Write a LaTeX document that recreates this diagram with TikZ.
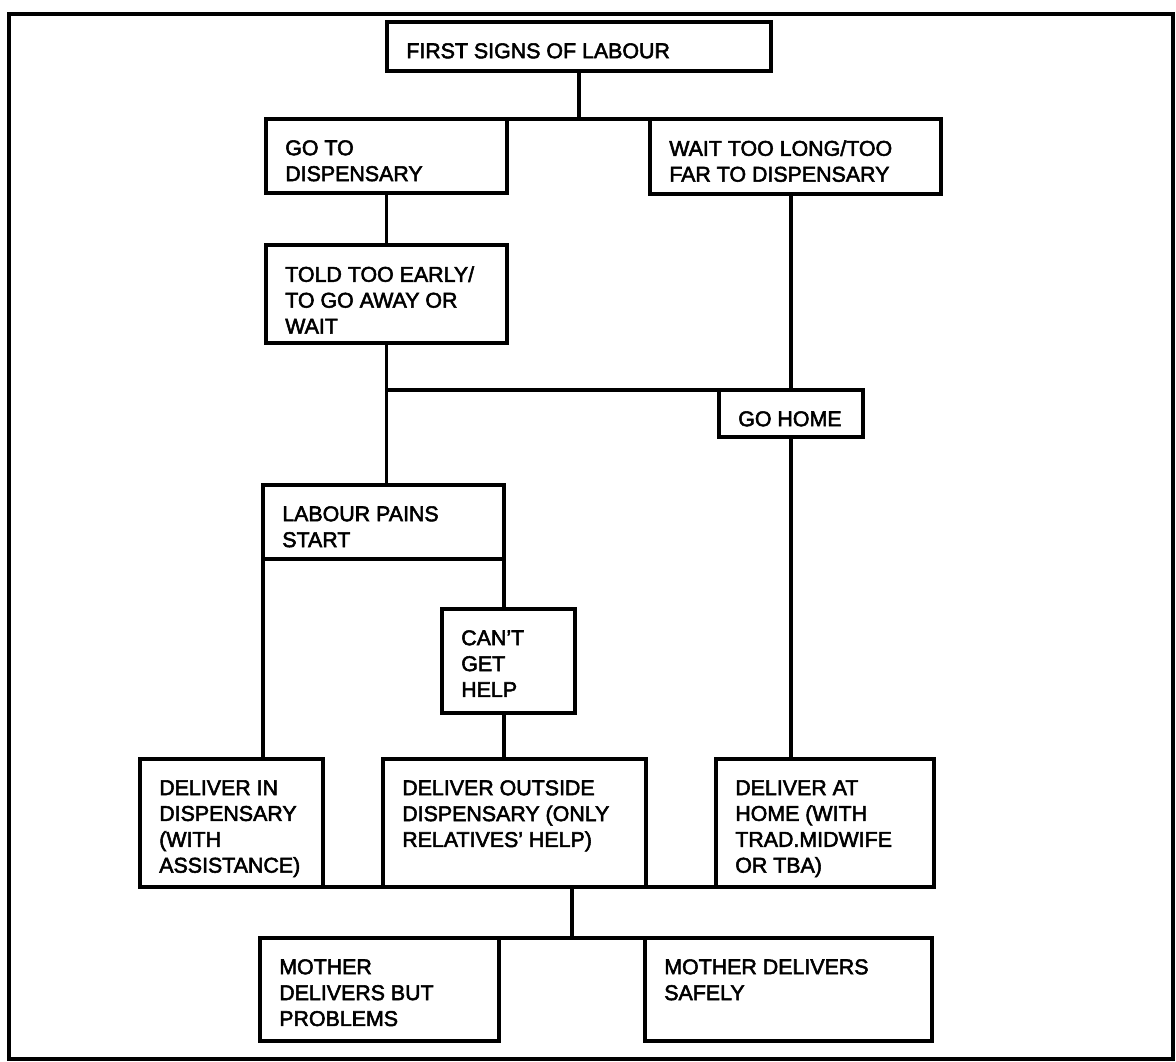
\documentclass[tikz,border=0pt]{standalone}
\usepackage{fontspec}
\setmainfont{Liberation Sans}[FakeBold=2.5]
\usetikzlibrary{calc}
\newlength{\pxl}
\setlength{\pxl}{0.025cm}
\tikzset{
  box/.style={draw, line width=2.2pt, anchor=north west, outer sep=0pt, inner sep=0pt},
  txt/.style={anchor=north west, align=left, inner xsep=19\pxl, inner ysep=21\pxl,
    font=\fontsize{15.2}{18.4}\selectfont},
  link/.style={line width=2.6pt},
}

\begin{document}
\begin{tikzpicture}[x=0.025cm, y=-0.025cm]
\useasboundingbox (0,0) rectangle (1176,1061);
\draw[line width=2.4pt] (9,14) rectangle (1173,1059);

% boxes, placed by their top left corner
\node[box, minimum width=384\pxl, minimum height=49\pxl, label={[txt]north west:FIRST SIGNS OF LABOUR}] (first) at (387,22) {};
\node[box, minimum width=241\pxl, minimum height=74\pxl, label={[txt]north west:{GO TO\\DISPENSARY}}] (dispensary) at (266,119) {};
\node[box, minimum width=291\pxl, minimum height=75\pxl, label={[txt]north west:{WAIT TOO LONG/TOO\\FAR TO DISPENSARY}}] (toofar) at (650,119) {};
\node[box, minimum width=241\pxl, minimum height=98\pxl, label={[txt]north west:{TOLD TOO EARLY/\\TO GO AWAY OR\\WAIT}}] (toldearly) at (266,245) {};
\node[box, minimum width=144\pxl, minimum height=47\pxl, label={[txt]north west:GO HOME}] (gohome) at (719,390) {};
\node[box, minimum width=241\pxl, minimum height=74\pxl, label={[txt]north west:{LABOUR PAINS\\START}}] (pains) at (263,485) {};
\node[box, minimum width=133\pxl, minimum height=104\pxl, label={[txt]north west:{CAN'T\\GET\\HELP}}] (canthelp) at (442,609) {};
\node[box, minimum width=183\pxl, minimum height=128\pxl, label={[txt]north west:{DELIVER IN\\DISPENSARY\\(WITH\\ASSISTANCE)}}] (inside) at (140,759) {};
\node[box, minimum width=263\pxl, minimum height=128\pxl, label={[txt]north west:{DELIVER OUTSIDE\\DISPENSARY (ONLY\\RELATIVES' HELP)}}] (outside) at (383,759) {};
\node[box, minimum width=218\pxl, minimum height=128\pxl, label={[txt]north west:{DELIVER AT\\HOME (WITH\\TRAD.MIDWIFE\\OR TBA)}}] (athome) at (716,759) {};
\node[box, minimum width=239\pxl, minimum height=103\pxl, label={[txt]north west:{MOTHER\\DELIVERS BUT\\PROBLEMS}}] (problems) at (260,938) {};
\node[box, minimum width=287\pxl, minimum height=103\pxl, label={[txt]north west:{MOTHER DELIVERS\\SAFELY}}] (safely) at (645,938) {};

% connecting lines
\draw[link] (first.south) -- (first.south |- dispensary.north);
\draw[link] (dispensary.north east) -- (toofar.north west);
\draw[link] (dispensary.south) -- (toldearly.north);
\draw[link] (toldearly.south) -- (toldearly.south |- pains.north);
\draw[link] (toldearly.south |- gohome.north) -- (gohome.north west);
\draw[link] (gohome.north) -- (gohome.north |- toofar.south);
\draw[link] (gohome.south) -- (gohome.south |- athome.north);
\draw[link] (pains.south west) -- (pains.south west |- inside.north);
\draw[link] (pains.south east) -- (pains.south east |- canthelp.north);
\draw[link] (pains.south east |- canthelp.south) -- (pains.south east |- outside.north);
\draw[link] (inside.south west) -- (athome.south east);
\coordinate (join) at ($(problems.north east)!.5!(safely.north west)$);
\draw[link] (join |- outside.south) -- (join);
\draw[link] (problems.north east) -- (safely.north west);
\end{tikzpicture}
\end{document}
